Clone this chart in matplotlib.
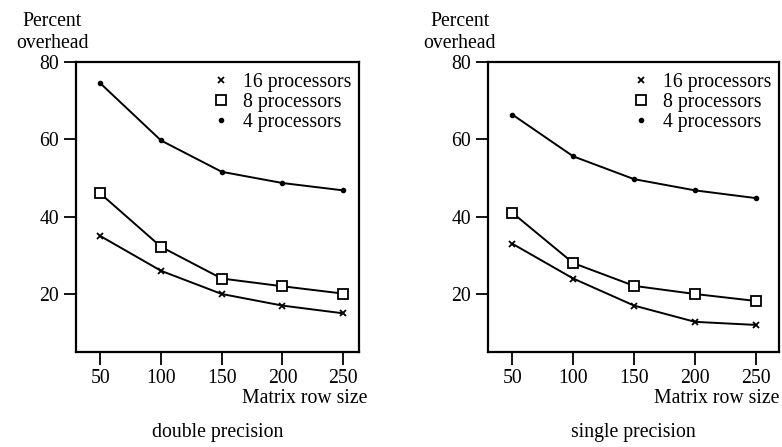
import matplotlib
matplotlib.use("Agg")
import matplotlib.pyplot as plt
from matplotlib.lines import Line2D

plt.rcParams['font.family'] = ['Liberation Serif', 'DejaVu Serif']

row_size = [50, 100, 150, 200, 250]
x_ticks = [50, 100, 150, 200, 250]
y_ticks = [20, 40, 60, 80]

double_16 = [35, 26, 20, 17, 15]
double_8 = [46, 32.2, 24, 22, 20.1]
double_4 = [74.5, 59.7, 51.6, 48.7, 46.8]

single_16 = [33, 24, 17, 12.8, 12]
single_8 = [41, 28, 22.1, 20, 18.2]
single_4 = [66.4, 55.6, 49.7, 46.8, 44.8]

series_labels = ["16 processors", "8 processors", "4 processors"]
panel_titles = ["double precision", "single precision"]

W, H = 782, 447
fig = plt.figure(figsize=(W / 100, H / 100), dpi=100)

FS = 14.2
lw = 1.4

panels = [
    dict(rect=(76, 62, 359, 352), xlim=(30, 263), data=(double_16, double_8, double_4),
         title=panel_titles[0], ylab_x=52, xlab_right=367),
    dict(rect=(488, 62, 779, 352), xlim=(30, 269), data=(single_16, single_8, single_4),
         title=panel_titles[1], ylab_x=460, xlab_right=779),
]

for p in panels:
    l, t, r, b = p['rect']
    ax = fig.add_axes([l / W, 1 - b / H, (r - l) / W, (b - t) / H])
    s16, s8, s4 = p['data']
    ax.plot(row_size, s4, color='black', lw=lw, marker='o', ms=3)
    ax.plot(row_size, s8, color='black', lw=lw, marker='s', ms=7.5, mfc='white', mew=1.3)
    ax.plot(row_size, s16, color='black', lw=lw, marker='x', ms=4.5, mew=1.3)
    ax.set_xlim(*p['xlim'])
    ax.set_ylim(5, 80)
    ax.set_xticks(x_ticks)
    ax.set_yticks(y_ticks)
    ax.tick_params(direction='out', length=9, width=1.3, labelsize=FS, pad=3, colors='black')
    for sp in ax.spines.values():
        sp.set_linewidth(1.6)
    handles = [
        Line2D([], [], ls='none', marker='x', ms=4, mew=1.3, color='black'),
        Line2D([], [], ls='none', marker='s', ms=6.5, mfc='white', mew=1.3, color='black'),
        Line2D([], [], ls='none', marker='o', ms=3, color='black'),
    ]
    ax.legend(handles, series_labels, loc='upper right', frameon=False, fontsize=FS,
              handlelength=1.0, handletextpad=0.6, labelspacing=0.05,
              borderaxespad=0.0, bbox_to_anchor=(1.0, 0.99))
    fig.text(p['ylab_x'] / W, 1 - 26 / H, "Percent", ha='center', va='baseline', fontsize=FS)
    fig.text(p['ylab_x'] / W, 1 - 48 / H, "overhead", ha='center', va='baseline', fontsize=FS)
    fig.text(p['xlab_right'] / W, 1 - 403 / H, "Matrix row size", ha='right', va='baseline', fontsize=FS)
    fig.text((l + r) / 2 / W, 1 - 437 / H, p['title'], ha='center', va='baseline', fontsize=FS)

fig.savefig("out.png", dpi=100)
